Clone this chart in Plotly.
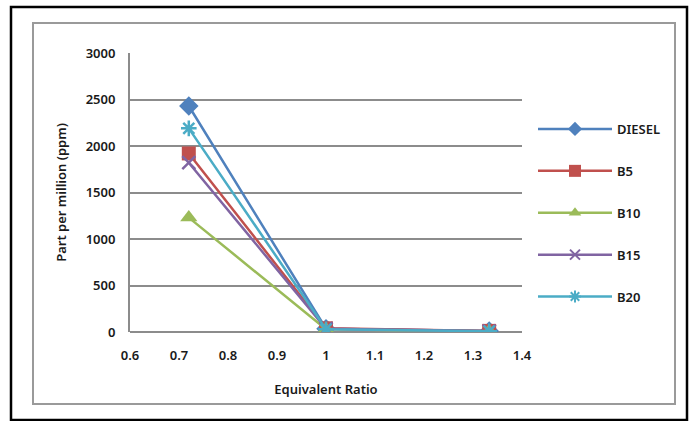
import plotly.graph_objects as go

# Equivalence ratios and emission readings (ppm) for each fuel blend
equiv_ratio = [0.72, 1.0, 1.333]
diesel = [2430, 35, 10]
b5 = [1920, 40, 12]
b10 = [1230, 30, 8]
b15 = [1820, 35, 10]
b20 = [2190, 30, 8]

series = [
    ("DIESEL", diesel, "#4F81BD", "diamond", 15, 11),
    ("B5", b5, "#C0504D", "square", 14, 12),
    ("B10", b10, "#9BBB59", "triangle-up", 15, 11),
    ("B15", b15, "#8064A2", "x-thin-open", 13, 10),
    ("B20", b20, "#4BACC6", "asterisk-open", 13, 10),
]

W, H = 689, 421
L, R, T, B = 130, 167, 53, 89
pw, ph = W - L - R, H - T - B

def px_x(p):
    return (p - L) / pw

def px_y(p):
    return (H - B - p) / ph

font = "Noto Sans"
txt = "#1a1a1a"
fig = go.Figure()
for name, vals, color, sym, size, leg_size in series:
    open_sym = sym.endswith("open")
    fig.add_trace(go.Scatter(
        x=equiv_ratio, y=vals, name=name, mode="lines+markers",
        line=dict(color=color, width=2.5),
        marker=dict(symbol=sym, size=size, color=color,
                    line=dict(color=color, width=2.5 if open_sym else 0)),
        showlegend=False,
    ))

# legend entries with smaller symbols
for name, vals, color, sym, size, leg_size in series:
    open_sym = sym.endswith("open")
    fig.add_trace(go.Scatter(
        x=[None], y=[None], name=name, mode="lines+markers",
        line=dict(color=color, width=2.5),
        marker=dict(symbol=sym, size=leg_size, color=color,
                    line=dict(color=color, width=2 if open_sym else 0)),
        legendgroup=name, showlegend=True,
    ))

fig.update_layout(
    width=W, height=H,
    margin=dict(l=L, r=R, t=T, b=B),
    paper_bgcolor="white", plot_bgcolor="white",
    font=dict(family=font, size=13, color=txt, weight=600),
    showlegend=True,
    legend=dict(x=px_x(533), y=px_y(114), xanchor="left", yanchor="top",
                tracegroupgap=22, itemwidth=74,
                font=dict(size=13, color=txt, weight=600),
                bgcolor="rgba(0,0,0,0)"),
    xaxis=dict(range=[0.6, 1.4], dtick=0.1, tick0=0.6, showgrid=False,
               zeroline=False, showline=False, ticks="",
               tickfont=dict(size=13, weight=600), ticklabelstandoff=14,
               title=dict(text="Equivalent Ratio", font=dict(size=13, weight=600), standoff=21)),
    yaxis=dict(range=[0, 3000], dtick=500, showgrid=True, gridcolor="#8c8c8c",
               gridwidth=2, zeroline=True, zerolinecolor="#8c8c8c", zerolinewidth=2,
               showline=True, linecolor="#8c8c8c", linewidth=2, ticks="",
               tickfont=dict(size=13, weight=600), ticklabelstandoff=10,
               title=dict(text="Part per million (ppm)", font=dict(size=13, weight=600), standoff=16)),
    shapes=[
        dict(type="rect", xref="paper", yref="paper",
             x0=px_x(11), x1=px_x(687), y0=px_y(420), y1=px_y(7),
             line=dict(color="black", width=2.5), layer="below"),
        dict(type="rect", xref="paper", yref="paper",
             x0=px_x(33), x1=px_x(675), y0=px_y(404), y1=px_y(23),
             line=dict(color="#9a9a9a", width=2), layer="below"),
    ],
)

fig.write_html("out.html")
